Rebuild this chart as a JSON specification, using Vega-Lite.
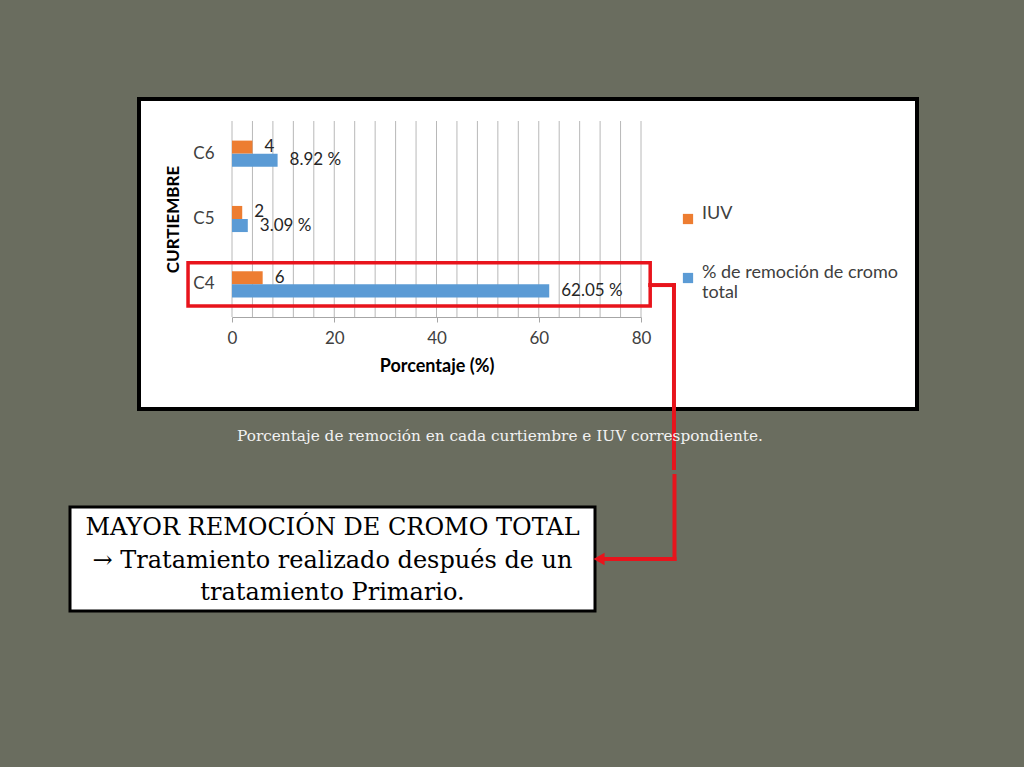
{
  "$schema": "https://vega.github.io/schema/vega-lite/v6.json",
  "background": "#6a6d5f",
  "padding": {"left": 68, "top": 97, "right": 105, "bottom": 154},
  "spacing": 0,
  "config": {
    "font": "Lato",
    "view": {"stroke": null}
  },
  "vconcat": [
    {
      "spacing": 0,
      "hconcat": [
        {
          "width": 67,
          "height": 310,
          "data": {"values": []},
          "mark": "point",
          "view": {"stroke": null}
        },
        {
          "width": 778,
          "height": 310,
          "view": {"fill": "white", "stroke": "black", "strokeWidth": 4},
          "title": {
            "text": "Porcentaje de remoción en cada curtiembre e IUV correspondiente.",
            "orient": "bottom",
            "anchor": "start",
            "dx": 98,
            "offset": -41,
            "font": "DejaVu Serif",
            "fontSize": 15.3,
            "fontWeight": "normal",
            "color": "#f2f2f2"
          },
          "resolve": {"scale": {"y": "independent"}},
          "layer": [
            {
              "layer": [
                {
                  "data": {
                    "values": [
                      {"g": 0}, {"g": 4}, {"g": 8}, {"g": 12}, {"g": 16}, {"g": 20}, {"g": 24},
                      {"g": 28}, {"g": 32}, {"g": 36}, {"g": 40}, {"g": 44}, {"g": 48}, {"g": 52},
                      {"g": 56}, {"g": 60}, {"g": 64}, {"g": 68}, {"g": 72}, {"g": 76}, {"g": 80}
                    ]
                  },
                  "mark": {"type": "rule", "color": "#b8b8b8", "strokeWidth": 1},
                  "encoding": {
                    "x": {"field": "g", "type": "quantitative"},
                    "y": {"datum": 0, "type": "quantitative", "scale": {"domain": [0, 1], "range": [22, 218]}, "axis": null},
                    "y2": {"datum": 1}
                  }
                },
                {
                  "data": {"values": [{}]},
                  "mark": {"type": "rule", "color": "#e8141c", "strokeWidth": 4, "strokeCap": "square"},
                  "encoding": {
                    "x": {"datum": 81.8},
                    "x2": {"datum": 86.45},
                    "y": {"datum": 0.837}
                  }
                },
                {
                  "data": {"values": [{}]},
                  "mark": {"type": "rect", "color": "#e8141c", "opacity": 1},
                  "encoding": {
                    "x": {"datum": 86.06},
                    "x2": {"datum": 86.84},
                    "y": {"datum": 0.8265},
                    "y2": {"datum": 1.7806}
                  }
                }
              ]
            },
            {
              "data": {
                "values": [
                  {"curtiembre": "C6", "serie": "IUV", "valor": 4, "etiqueta": "4"},
                  {"curtiembre": "C6", "serie": "% de remoción de cromo total", "valor": 8.92, "etiqueta": "8.92 %"},
                  {"curtiembre": "C5", "serie": "IUV", "valor": 2, "etiqueta": "2"},
                  {"curtiembre": "C5", "serie": "% de remoción de cromo total", "valor": 3.09, "etiqueta": "3.09 %"},
                  {"curtiembre": "C4", "serie": "IUV", "valor": 6, "etiqueta": "6"},
                  {"curtiembre": "C4", "serie": "% de remoción de cromo total", "valor": 62.05, "etiqueta": "62.05 %"}
                ]
              },
              "encoding": {
                "y": {
                  "field": "curtiembre",
                  "type": "nominal",
                  "scale": {
                    "domain": ["C6", "C5", "C4"],
                    "range": [22, 218],
                    "paddingInner": 0.6,
                    "paddingOuter": 0.3
                  },
                  "axis": {
                    "orient": "left",
                    "offset": -93,
                    "domain": false,
                    "ticks": false,
                    "labelPadding": 18,
                    "labelFontSize": 17,
                    "labelColor": "#404040",
                    "title": "CURTIEMBRE",
                    "titleFontSize": 17,
                    "titleFontWeight": "bold",
                    "titleColor": "black",
                    "titlePadding": 10
                  }
                },
                "yOffset": {
                  "field": "serie",
                  "type": "nominal",
                  "scale": {"domain": ["IUV", "% de remoción de cromo total"], "paddingInner": 0}
                }
              },
              "layer": [
                {
                  "mark": {"type": "bar"},
                  "encoding": {
                    "x": {
                      "field": "valor",
                      "type": "quantitative",
                      "scale": {"domain": [0, 80], "range": [93, 502], "nice": false},
                      "axis": {
                        "values": [0, 20, 40, 60, 80],
                        "labelOverlap": false,
                        "labelFlush": false,
                        "offset": -92,
                        "grid": false,
                        "domainColor": "#a6a6a6",
                        "tickColor": "#a6a6a6",
                        "tickSize": 5,
                        "labelFontSize": 17,
                        "labelColor": "#404040",
                        "labelPadding": 8,
                        "title": "Porcentaje (%)",
                        "titleFontSize": 18,
                        "titleFontWeight": "bold",
                        "titleColor": "black",
                        "titlePadding": 11
                      }
                    },
                    "color": {
                      "field": "serie",
                      "type": "nominal",
                      "scale": {
                        "domain": ["IUV", "% de remoción de cromo total"],
                        "range": ["#ed7d31", "#5b9bd5"]
                      },
                      "legend": {
                        "title": null,
                        "orient": "none",
                        "legendX": 609,
                        "legendY": 111,
                        "labelFontSize": 18,
                        "labelColor": "#404040",
                        "labelLimit": 400,
                        "symbolType": "square",
                        "symbolSize": 105,
                        "symbolStrokeWidth": 0,
                        "symbolOpacity": 1,
                        "rowPadding": 39,
                        "labelBaseline": "alphabetic",
                        "labelOffset": 5,
                        "labelExpr": "datum.label == 'IUV' ? 'IUV' : ['% de remoción de cromo', 'total']"
                      }
                    }
                  }
                },
                {
                  "mark": {"type": "text", "align": "left", "baseline": "middle", "dx": 12, "fontSize": 17, "color": "#262626"},
                  "encoding": {
                    "x": {"field": "valor", "type": "quantitative"},
                    "text": {"field": "etiqueta"}
                  }
                },
                {
                  "data": {"values": [{"curtiembre": "C4"}]},
                  "mark": {
                    "type": "bar",
                    "fillOpacity": 0,
                    "stroke": "#e8141c",
                    "strokeWidth": 3.5,
                    "height": {"band": 1.65}
                  },
                  "encoding": {
                    "yOffset": null,
                    "x": {"datum": -8.6},
                    "x2": {"datum": 81.8}
                  }
                }
              ]
            }
          ]
        }
      ]
    },
    {
      "width": 525,
      "height": 104,
      "view": {"fill": "white", "stroke": "black", "strokeWidth": 3},
      "layer": [
        {
          "data": {
            "values": [
              {"texto": "MAYOR REMOCIÓN DE CROMO TOTAL\n→ Tratamiento realizado después de un\ntratamiento Primario."}
            ]
          },
          "mark": {
            "type": "text",
            "font": "DejaVu Serif",
            "fontSize": 24,
            "lineBreak": "\n",
            "lineHeight": 32.5,
            "align": "center",
            "baseline": "middle",
            "dy": -31,
            "color": "black"
          },
          "encoding": {"text": {"field": "texto"}}
        },
        {
          "data": {"values": [{}]},
          "mark": {"type": "rect", "color": "#e8141c", "opacity": 1},
          "encoding": {
            "x": {"datum": 86.06, "type": "quantitative", "scale": {"domain": [0, 80], "range": [162.5, 571.5]}, "axis": null},
            "x2": {"datum": 86.84},
            "y": {"datum": 1.8061, "type": "quantitative", "scale": {"domain": [0, 1], "range": [-387, -191]}, "axis": null},
            "y2": {"datum": 2.25}
          }
        },
        {
          "data": {"values": [{}]},
          "mark": {"type": "rule", "color": "#e8141c", "strokeWidth": 4, "strokeCap": "square"},
          "encoding": {
            "x": {"datum": 86.45},
            "x2": {"datum": 72.6},
            "y": {"datum": 2.24}
          }
        },
        {
          "data": {"values": [{}]},
          "mark": {"type": "point", "shape": "triangle-left", "filled": true, "color": "#e8141c", "opacity": 1, "size": 160},
          "encoding": {
            "x": {"datum": 71.7},
            "y": {"datum": 2.24}
          }
        }
      ]
    }
  ]
}
